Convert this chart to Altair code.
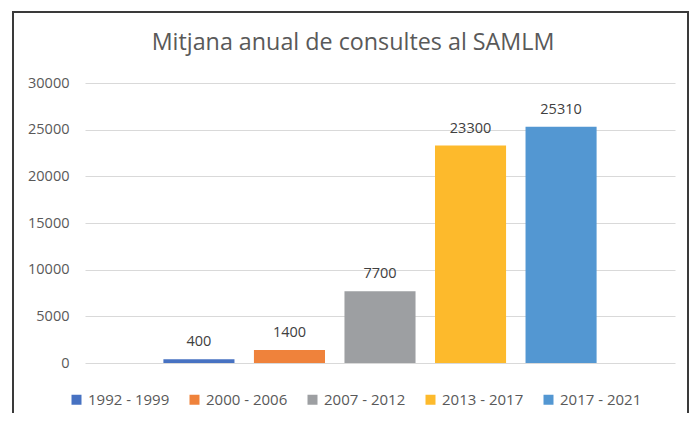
import altair as alt
import pandas as pd

periods = ["1992 - 1999", "2000 - 2006", "2007 - 2012", "2013 - 2017", "2017 - 2021"]
values = [400, 1400, 7700, 23300, 25310]
colors = ["#4772C2", "#EF823B", "#9D9FA2", "#FDBA2C", "#5397D2"]
y_ticks = [0, 5000, 10000, 15000, 20000, 25000, 30000]
title_text = "Mitjana anual de consultes al SAMLM"

df = pd.DataFrame({"period": periods, "value": values})
FONT = "Open Sans"

base = alt.Chart(df)

x_enc = alt.X("period:N", sort=periods, axis=None,
              scale=alt.Scale(paddingInner=0.215, paddingOuter=0.866))

bars = base.mark_bar().encode(
    x=x_enc,
    y=alt.Y("value:Q", scale=alt.Scale(domain=[0, 30000], nice=False),
            axis=alt.Axis(values=y_ticks, title=None, domain=False, ticks=False,
                          labelPadding=16, labelFont=FONT, labelFontSize=14.5,
                          labelColor="#595959", gridColor="#D9D9D9", gridWidth=1.2,
                          format="d")),
    color=alt.Color("period:N", sort=periods,
                    scale=alt.Scale(domain=periods, range=colors),
                    legend=alt.Legend(title=None, orient="none", direction="horizontal",
                                      legendX=-16, legendY=309, symbolType="square",
                                      symbolSize=100, symbolStrokeWidth=0,
                                      labelFont=FONT, labelFontSize=15,
                                      labelColor="#595959", labelOffset=4,
                                      columnPadding=17, padding=0)),
)

labels = base.mark_text(font=FONT, fontSize=14.5, color="#404040",
                        baseline="alphabetic", dy=-13).encode(
    x=x_enc,
    y=alt.Y("value:Q"),
    text=alt.Text("value:Q", format="d"),
)

title = alt.Chart(alt.Data(values=[{"t": title_text}])).mark_text(
    font=FONT, fontSize=23.3, color="#595959", baseline="middle", align="center"
).encode(x=alt.value(268), y=alt.value(-40), text="t:N")

border = alt.Chart(alt.Data(values=[{"b": 1}])).mark_rect(
    fillOpacity=0, stroke="#3A3A3A", strokeWidth=2
).encode(x=alt.value(-72), x2=alt.value(603), y=alt.value(-71), y2=alt.value(345))

chart = alt.layer(border, bars, labels, title).properties(
    width=590, height=280,
    autosize=alt.AutoSizeParams(type="none"),
    padding={"left": 77, "top": 75, "right": 14, "bottom": 50},
).configure_view(stroke=None)

chart.save("out.html", embed_options={"renderer": "svg", "actions": False})
